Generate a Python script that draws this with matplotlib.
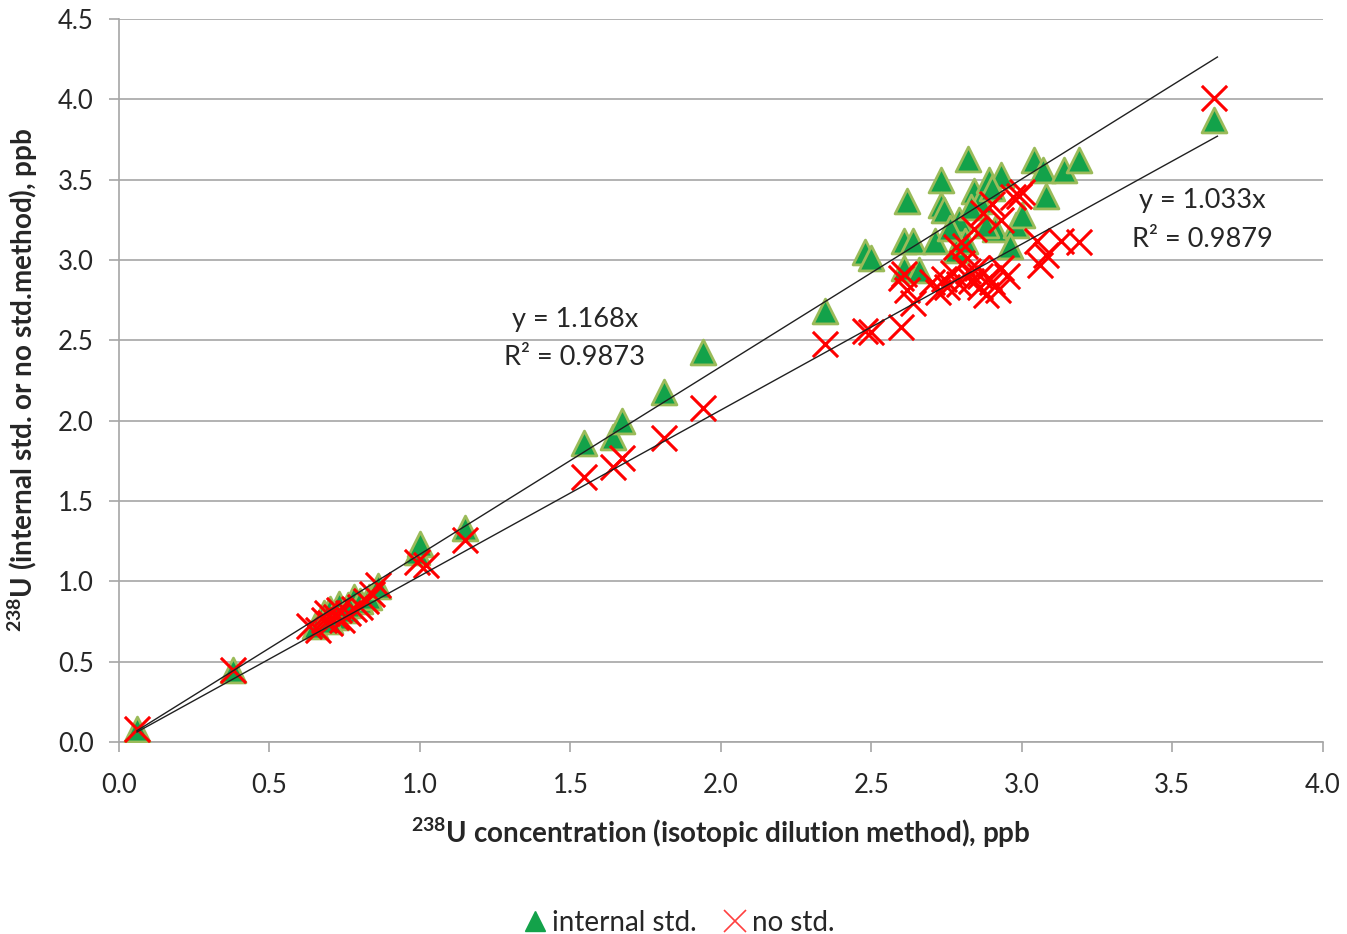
import matplotlib
matplotlib.use("Agg")
import matplotlib.pyplot as plt
import numpy as np
from matplotlib.lines import Line2D

plt.rcParams['font.family'] = ['Lato', 'DejaVu Sans']
plt.rcParams['mathtext.fontset'] = 'custom'
plt.rcParams['mathtext.rm'] = 'Lato'
plt.rcParams['mathtext.bf'] = 'Lato:bold'

# internal std. (green triangles)
int_x = [0.06, 0.38, 0.65, 0.68, 0.70, 0.72, 0.73, 0.75, 0.78, 0.80, 0.83, 0.86, 0.70, 0.76,
         0.99, 1.00, 1.15, 1.545, 1.64, 1.67, 1.81, 1.94, 2.345, 2.48, 2.50,
         2.62, 2.61, 2.61, 2.64, 2.71, 2.73, 2.73, 2.74, 2.82, 2.79, 2.84, 2.86, 2.89, 2.93,
         2.91, 2.98, 3.00, 3.04, 3.07, 3.08, 3.14, 3.19, 3.64,
         2.66, 2.78, 2.81, 2.88, 2.96, 2.83, 2.90, 2.76]
int_y = [0.08, 0.45, 0.72, 0.80, 0.83, 0.78, 0.86, 0.82, 0.90, 0.88, 0.90, 0.97, 0.75, 0.85,
         1.18, 1.23, 1.33, 1.86, 1.90, 2.00, 2.18, 2.43, 2.68, 3.05, 3.01,
         3.37, 3.12, 2.95, 3.12, 3.12, 3.50, 3.34, 3.31, 3.63, 3.25, 3.43, 3.37, 3.50, 3.53,
         3.19, 3.22, 3.28, 3.62, 3.56, 3.40, 3.56, 3.62, 3.87,
         2.94, 3.06, 3.12, 3.22, 3.09, 3.33, 3.45, 3.20]

# no std. (red crosses)
no_x = [0.06, 0.38, 0.63, 0.66, 0.68, 0.70, 0.72, 0.74, 0.76, 0.78, 0.80, 0.82, 0.84, 0.86, 0.69, 0.73,
        0.99, 1.02, 1.15, 1.545, 1.64, 1.67, 1.81, 1.94, 2.345, 2.48, 2.50, 2.60, 2.61, 2.62,
        2.60, 2.64, 2.70, 2.75, 2.78, 2.80, 2.83, 2.86, 2.89, 2.92, 2.87, 2.90, 2.97, 3.00,
        3.05, 3.08, 3.06, 3.13, 3.19, 2.99, 2.93, 2.81, 2.84, 2.72, 2.77, 2.85, 2.88, 2.95,
        2.74, 2.79, 2.82, 2.86, 2.90, 2.93, 3.64]
no_y = [0.08, 0.45, 0.72, 0.70, 0.76, 0.74, 0.78, 0.76, 0.80, 0.83, 0.84, 0.88, 0.92, 0.98, 0.80, 0.82,
        1.12, 1.10, 1.26, 1.65, 1.71, 1.77, 1.89, 2.08, 2.48, 2.56, 2.55, 2.58, 2.91, 2.81,
        2.89, 2.73, 2.86, 2.83, 3.08, 2.98, 2.87, 2.83, 2.89, 2.81, 3.29, 3.35, 3.39, 3.42,
        3.12, 3.03, 2.97, 3.12, 3.11, 3.40, 3.25, 3.09, 3.19, 2.80, 2.92, 2.95, 2.78, 2.90,
        2.88, 2.85, 2.93, 2.90, 2.86, 2.95, 4.01]

slope_int = 1.168
slope_no = 1.033
fit_xmin, fit_xmax = 0.06, 3.65

fig = plt.figure(figsize=(13.47, 9.34), dpi=100)
ax = fig.add_axes([0.0883, 0.2056, 0.8937, 0.7741])

ax.set_xlim(0, 4.0)
ax.set_ylim(0, 4.5)
xt = np.arange(0, 4.01, 0.5)
yt = np.arange(0, 4.51, 0.5)
ax.set_xticks(xt)
ax.set_yticks(yt)
ax.set_xticklabels([f"{v:.1f}" for v in xt])
ax.set_yticklabels([f"{v:.1f}" for v in yt])
ax.yaxis.grid(True, color='#a6a6a6', linewidth=1.2)
ax.set_axisbelow(True)
for s in ['top', 'right']:
    ax.spines[s].set_visible(False)
for s in ['left', 'bottom']:
    ax.spines[s].set_color('#a6a6a6')
    ax.spines[s].set_linewidth(1.2)
ax.tick_params(axis='both', colors='#a6a6a6', labelcolor='#262626', labelsize=18.5,
               length=7, width=1.2)
ax.tick_params(axis='x', pad=15)
ax.tick_params(axis='y', pad=11)

ax.scatter(int_x, int_y, marker='^', s=320, facecolor='#13a24a', edgecolor='#9bbb59',
           linewidth=2, zorder=3, label='internal std.')
ax.scatter(no_x, no_y, marker='x', s=330, color='#ff0000', linewidth=2.2, zorder=4, label='no std.')

fx = np.array([fit_xmin, fit_xmax])
ax.plot(fx, slope_int * fx, color='#202020', linewidth=1.0, zorder=5)
ax.plot(fx, slope_no * fx, color='#202020', linewidth=1.0, zorder=5)

tk = dict(ha='center', va='center', fontsize=19.5, color='#262626')
ax.text(1.515, 2.63, f"y = {slope_int:.3f}x", **tk)
ax.text(1.515, 2.39, "R² = 0.9873", **tk)
ax.text(3.60, 3.37, f"y = {slope_no:.3f}x", **tk)
ax.text(3.60, 3.13, "R² = 0.9879", **tk)

fig.text(0.535, 0.108, r"$\mathbf{^{238}}$U concentration (isotopic dilution method), ppb",
         ha='center', va='center', fontsize=20, fontweight='bold', color='#262626')
fig.text(0.017, 0.593, r"$\mathbf{^{238}}$U (internal std. or no std.method), ppb",
         ha='center', va='center', rotation=90, fontsize=20, fontweight='bold', color='#262626')

h1 = Line2D([], [], marker='^', linestyle='none', markersize=14, markerfacecolor='#13a24a',
            markeredgecolor='#13a24a')
h2 = Line2D([], [], marker='x', linestyle='none', markersize=16, color='#ff4040', markeredgewidth=1.2)
fig.legend([h1, h2], ['internal std.', 'no std.'], loc='center', bbox_to_anchor=(0.502, 0.012),
           ncol=2, frameon=False, fontsize=20, handletextpad=0.0, columnspacing=0.8,
           handlelength=1.2, labelcolor='#262626')

fig.savefig("out.png", dpi=100)
